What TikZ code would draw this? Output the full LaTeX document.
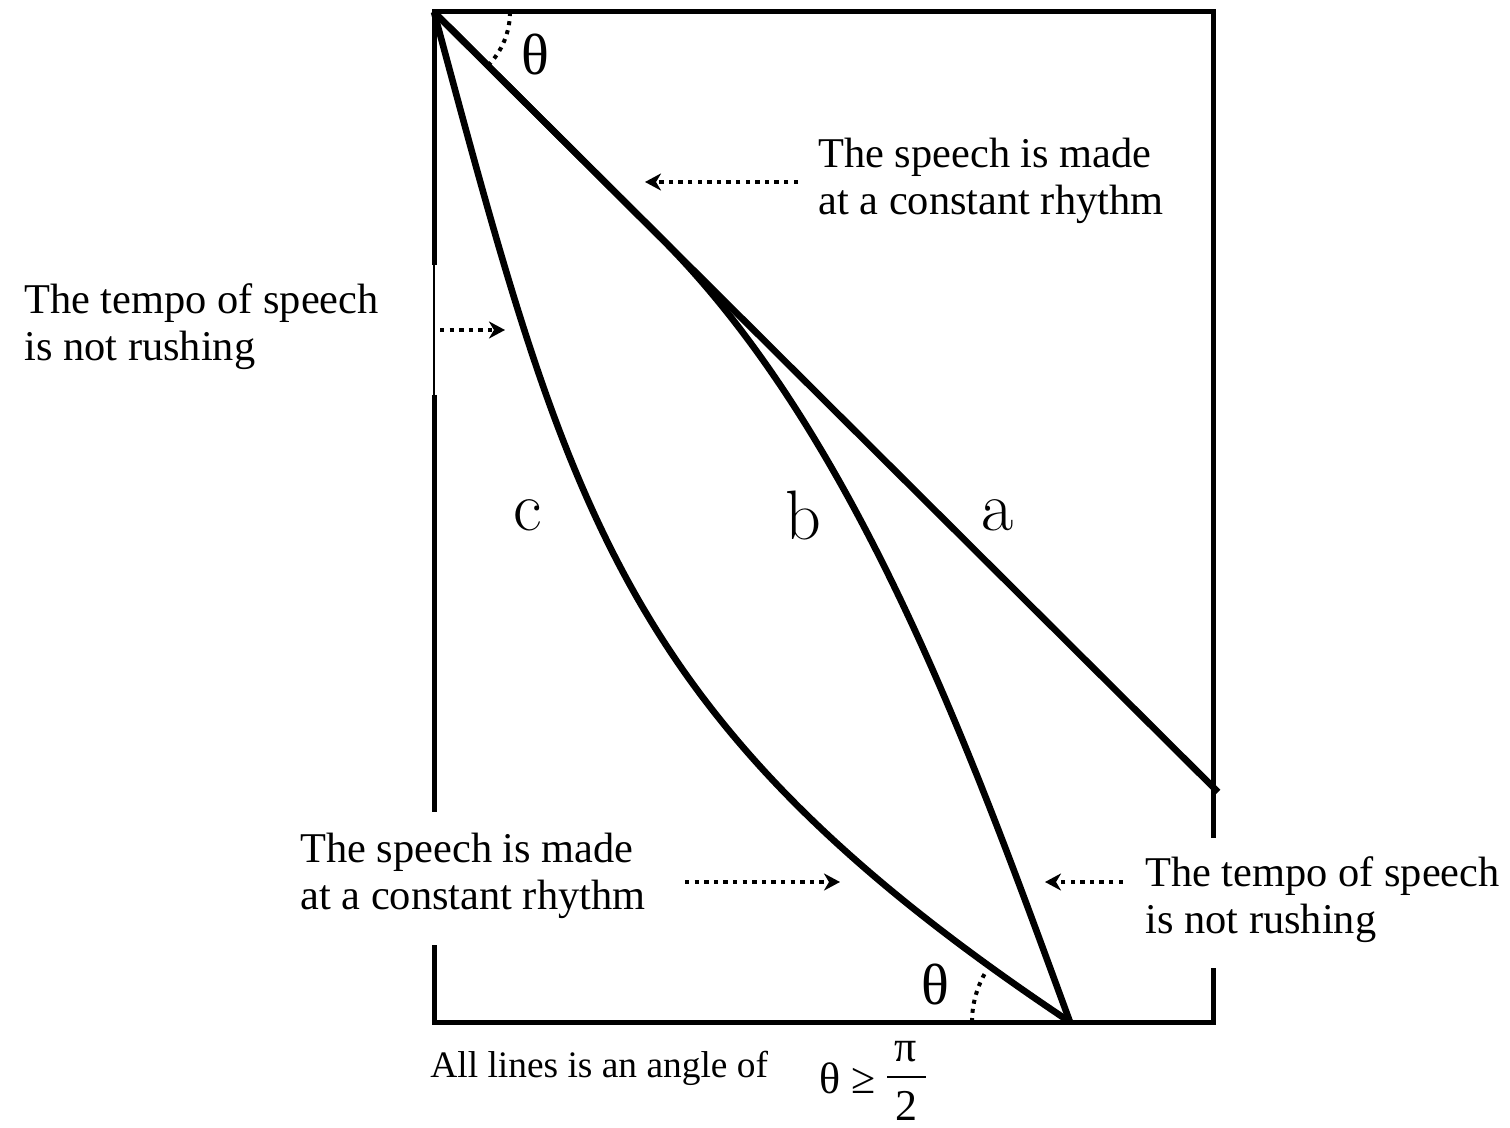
\documentclass[tikz,border=0pt]{standalone}
\usepackage{fontspec}
\setmainfont{Liberation Serif}
\newfontfamily\curvefont{Latin Modern Roman}
\usetikzlibrary{arrows.meta}

\begin{document}
\begin{tikzpicture}[x=0.5pt,y=-0.5pt,>={Stealth[length=8pt,width=8.5pt,inset=2.5pt]},
  frame/.style={line width=2.5pt},
  curve/.style={line width=3.3pt},
  cue/.style={line width=2.2pt,dash pattern=on 2.2pt off 2.6pt,->},
  dotarc/.style={line width=2pt,dash pattern=on 2pt off 2.6pt},
  note/.style={font=\fontsize{21.2}{23.5}\selectfont,align=left,anchor=west,inner sep=0pt},
  curvelabel/.style={font=\curvefont\fontsize{35}{35}\selectfont,inner sep=0pt},
  anglelabel/.style={font=\fontsize{29}{29}\selectfont,inner sep=0pt}]
  \useasboundingbox (0,0) rectangle (1510,1128);

  % Corners and ends
  \coordinate (TL) at (434,12);
  \coordinate (TR) at (1213,12);
  \coordinate (BL) at (434,1022);
  \coordinate (BR) at (1213,1022);
  \coordinate (foot) at (1070,1022);
  \coordinate (aEnd) at (1218,792);
  \coordinate (bSplit) at (661,238);

  % Frame (broken where the notes sit)
  \draw[frame] (434,265) -- (TL) -- (TR) -- (1213,838);
  \draw[line width=0.8pt] (434,265) -- (434,395);
  \draw[frame] (434,395) -- (434,812);
  \draw[frame] (434,945) -- (BL) -- (BR) -- (1213,968);

  % Lines a, b, c
  \draw[curve] (TL) -- (aEnd);
  \draw[curve] (TL) -- (bSplit) .. controls (861,438) and (978,772) .. (foot);
  \draw[curve] (TL) .. controls (569,512) and (620,722) .. (foot);

  \node[curvelabel] (labA) at (998,515) {a};
  \node[curvelabel] (labB) at (803,515) {b};
  \node[curvelabel] (labC) at (528,515) {c};

  % Angles
  \draw[dotarc] ([shift={(76,0)}]TL) arc[start angle=0,end angle=45,radius=76];
  \draw[dotarc] ([shift={(-98,0)}]foot) arc[start angle=180,end angle=211,radius=98];
  \node[anglelabel] (thetaTop) at (535,55) {θ};
  \node[anglelabel] (thetaFoot) at (935,985) {θ};

  % Notes
  \node[note] (speechTop) at (818,181) {The speech is made\\at a constant rhythm};
  \node[note] (tempoLeft) at (24,327) {The tempo of speech\\is not rushing};
  \node[note] (speechLow) at (300,876) {The speech is made\\at a constant rhythm};
  \node[note] (tempoRight) at (1145,900) {The tempo of speech\\is not rushing};

  % Cues
  \coordinate (cueTopFrom) at (798,182);
  \coordinate (cueTopTo) at (645,182);
  \coordinate (cueLeftFrom) at (440,330);
  \coordinate (cueLeftTo) at (505,330);
  \coordinate (cueLowFrom) at (685,882);
  \coordinate (cueLowTo) at (840,882);
  \coordinate (cueRightFrom) at (1123,882);
  \coordinate (cueRightTo) at (1045,882);
  \draw[cue] (cueTopFrom) -- (cueTopTo);
  \draw[cue] (cueLeftFrom) -- (cueLeftTo);
  \draw[cue] (cueLowFrom) -- (cueLowTo);
  \draw[cue] (cueRightFrom) -- (cueRightTo);

  % Caption
  \node[anchor=west,inner sep=0pt,font=\fontsize{18.7}{20}\selectfont] (caption) at (430,1068) {All lines is an angle of};
  \node[inner sep=0pt,font=\fontsize{22}{22}\selectfont] (thetaGe) at (848,1078) {θ ≥};
  \node[inner sep=0pt,font=\fontsize{22}{22}\selectfont] (numPi) at (906,1052) {π};
  \node[inner sep=0pt,font=\fontsize{22}{22}\selectfont] (denTwo) at (906,1106) {2};
  \draw[line width=1pt] (887,1077) -- (926,1077);
\end{tikzpicture}
\end{document}
